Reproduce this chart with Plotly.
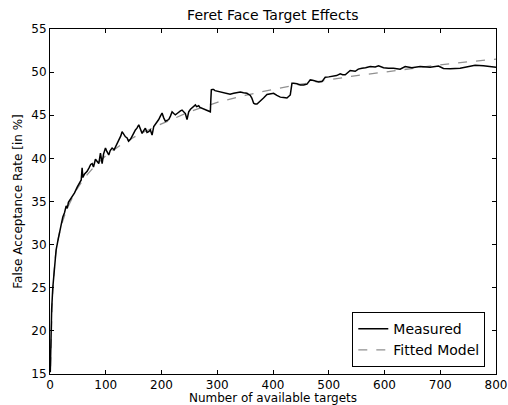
import plotly.graph_objects as go

# Measured curve
measured_x = [0.5, 1, 2, 3, 5, 8, 11, 14, 17, 20, 23, 26, 29, 31, 33, 36, 40, 44, 49, 53, 56, 57.6, 59, 62, 66.6,
              70, 73, 75.6, 78, 81.5, 84, 87.5, 90.5, 93.5, 96, 99.5, 102, 105.4, 108, 111.4, 115, 118, 120.4,
              124, 127, 129.3, 132, 135.3, 138, 141, 144.3, 147, 150, 153.2, 156, 159.2, 162, 165.2, 168, 171.1,
              174, 177.1, 180, 183.1, 186.1, 190, 195, 198, 201, 204, 207, 210, 213, 216, 219, 222, 224.9, 228,
              230.9, 234, 236.9, 240, 242.8, 245.8, 248.8, 252, 254.8, 257, 260.8, 263, 266.7, 269, 272.7, 276,
              279, 281.7, 284, 287.6, 288.5, 289.4, 291, 293.6, 296, 300, 305.6, 310, 317.5, 323, 329.5, 335,
              341.4, 347, 353.3, 359.3, 362, 365.3, 368, 371.3, 374, 377.2, 383, 389.2, 395, 401.1, 407, 413.1,
              419, 425, 431, 433, 434, 437, 443, 449, 455, 460.9, 466.8, 471, 475.8, 482, 487.8, 493.7, 500,
              508.6, 514, 520.6, 525, 529.6, 534, 538.5, 547.5, 553, 559.5, 566, 574.4, 583.3, 589.3, 598.3,
              607, 616.1, 628, 637.1, 649, 664, 682, 696.8, 705.8, 717.7, 735.7, 753.6, 762.5, 777.4, 790, 800]
measured_y = [15.2, 18.0, 20.5, 22.5, 25.0, 27.8, 29.4, 30.4, 31.6, 32.3, 33.2, 33.7, 34.5, 34.2, 34.9, 35.2, 35.6,
              36.0, 36.7, 37.1, 37.5, 38.9, 37.8, 38.2, 38.5, 38.9, 39.3, 39.4, 39.0, 39.9, 39.7, 39.4, 40.6,
              39.4, 40.5, 41.2, 40.8, 40.4, 40.9, 41.2, 41.0, 41.4, 41.6, 42.2, 42.6, 43.1, 42.8, 42.5, 42.4,
              42.0, 42.2, 42.6, 42.9, 43.3, 43.5, 43.9, 43.3, 42.9, 43.2, 43.5, 43.0, 43.1, 43.3, 42.7, 43.7,
              44.0, 44.5, 44.9, 45.25, 44.7, 44.3, 44.4, 44.5, 44.9, 45.4, 45.2, 45.05, 45.2, 45.4, 45.5, 45.6,
              45.4, 45.2, 44.5, 45.4, 45.7, 45.9, 46.0, 46.2, 46.0, 46.1, 45.9, 45.8, 45.7, 45.65, 45.6, 45.5,
              45.4, 46.8, 47.95, 48.0, 48.0, 47.85, 47.8, 47.7, 47.6, 47.5, 47.45, 47.55, 47.6, 47.7, 47.6,
              47.55, 47.3, 47.0, 46.4, 46.3, 46.3, 46.45, 46.6, 47.0, 47.4, 47.5, 47.55, 47.3, 47.1, 47.05,
              47.0, 47.35, 48.3, 48.7, 48.7, 48.65, 48.5, 48.5, 48.6, 49.1, 49.05, 49.0, 48.85, 48.9, 49.4,
              49.45, 49.57, 49.6, 49.8, 49.7, 49.69, 49.9, 50.19, 50.1, 50.35, 50.46, 50.5, 50.65, 50.6, 50.73,
              50.5, 50.45, 50.46, 50.34, 50.65, 50.5, 50.65, 50.57, 50.7, 50.42, 50.38, 50.45, 50.65, 50.8,
              50.73, 50.6, 50.55]

# Fitted model
model_x = [1, 2, 4, 7, 10, 15, 20, 30, 45, 60, 80, 100, 130, 160, 200, 250, 300, 350, 400, 450, 500, 550,
           600, 650, 700, 750, 800]
model_y = [15.9, 19.8, 23.6, 26.6, 28.8, 30.8, 32.2, 34.1, 36.1, 37.6, 39.1, 40.3, 41.7, 42.8, 44.0, 45.4,
           46.5, 47.3, 48.0, 48.6, 49.1, 49.6, 50.0, 50.45, 50.85, 51.2, 51.5]

x_ticks = [0, 100, 200, 300, 400, 500, 600, 700, 800]
y_ticks = [15, 20, 25, 30, 35, 40, 45, 50, 55]

fig = go.Figure()
fig.add_trace(go.Scatter(x=model_x, y=model_y, mode="lines", name="Fitted Model",
                         line=dict(color="#909090", width=1.3, dash="dash"), showlegend=False))
fig.add_trace(go.Scatter(x=measured_x, y=measured_y, mode="lines", name="Measured",
                         line=dict(color="black", width=1.5)))
fig.add_trace(go.Scatter(x=[None], y=[None], mode="lines", name="Fitted Model",
                         line=dict(color="#909090", width=1.3, dash="dash")))

axis_common = dict(showgrid=False, zeroline=False, showline=True, linecolor="black", linewidth=1,
                   mirror="allticks", ticks="inside", ticklen=4, tickcolor="black", automargin=False,
                   tickfont=dict(family="DejaVu Sans", size=12, color="black"))

fig.update_layout(
    width=508, height=405,
    margin=dict(l=49.5, r=12, t=29, b=31),
    paper_bgcolor="white", plot_bgcolor="white",
    font=dict(family="DejaVu Sans", color="black"),
    title=dict(text="Feret Face Target Effects", x=0.537, xanchor="center", y=0.963, yanchor="middle",
               font=dict(size=14, color="black"), automargin=False),
    xaxis=dict(range=[0, 800], tickvals=x_ticks, title=dict(text="Number of available targets",
               font=dict(size=12), standoff=0), **axis_common),
    yaxis=dict(range=[15, 55], tickvals=y_ticks, title=dict(text="False Acceptance Rate [in %]",
               font=dict(size=12), standoff=6), **axis_common),
    legend=dict(x=0.976, xanchor="right", y=0.02, yanchor="bottom", bordercolor="black", borderwidth=1,
                bgcolor="white", font=dict(size=14, color="black"), tracegroupgap=0, itemwidth=30),
)

fig.write_html("out.html", config={"displayModeBar": False},
               post_script="document.body.style.margin='0';document.body.style.overflow='hidden';")
